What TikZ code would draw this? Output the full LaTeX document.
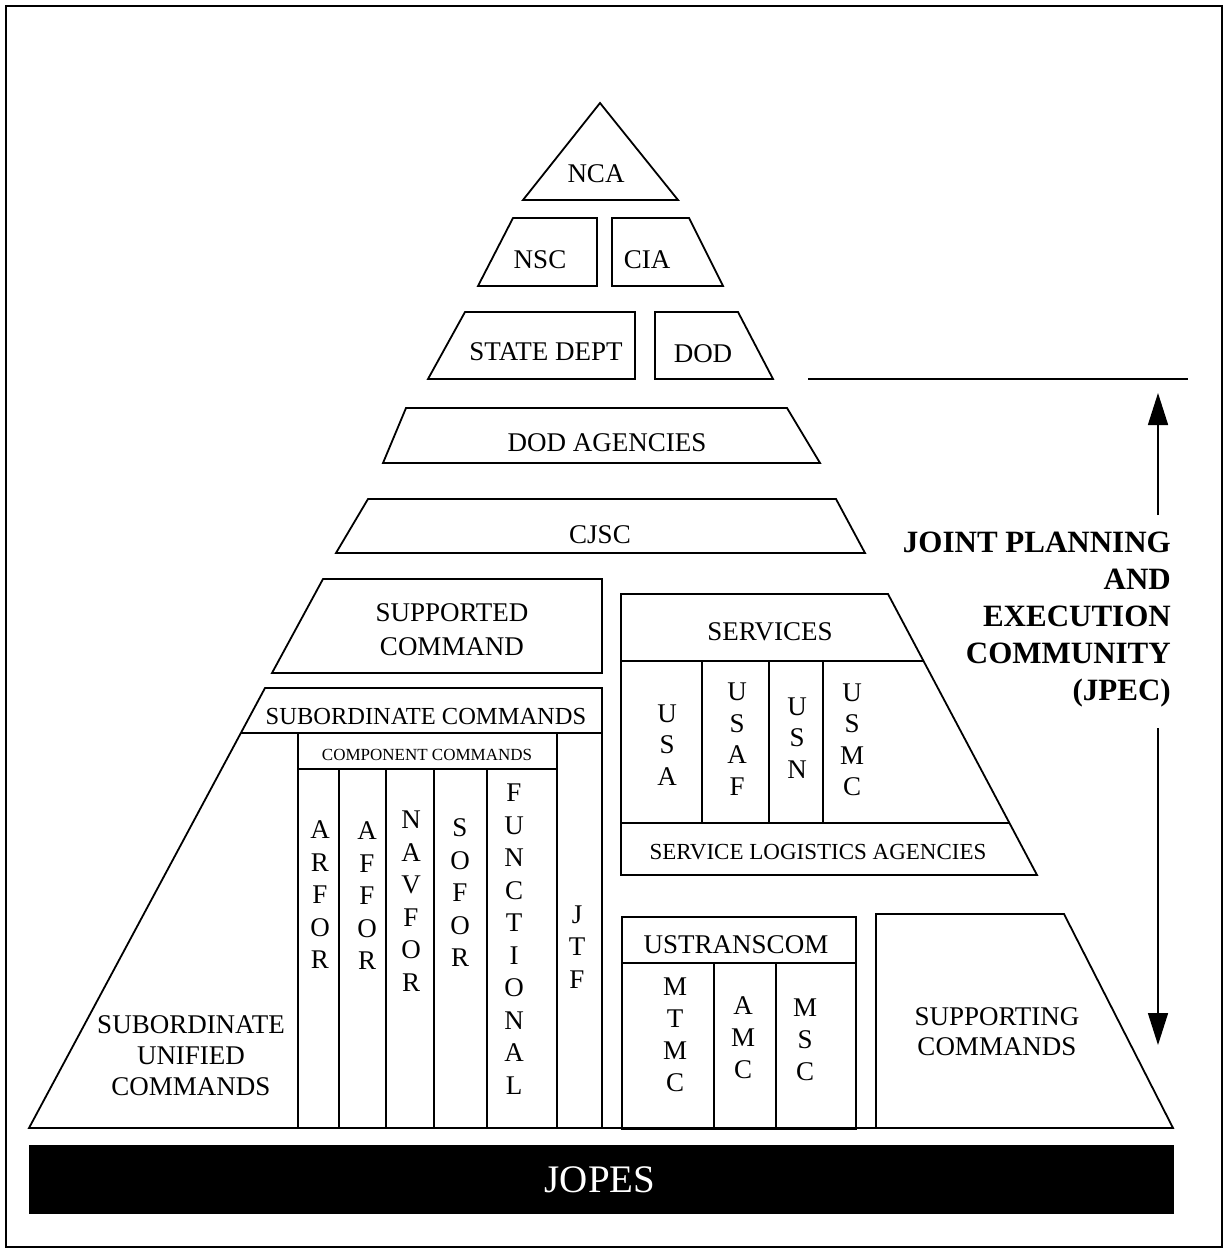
\documentclass[tikz,border=0pt]{standalone}
\usepackage{fontspec}
\setmainfont{Liberation Serif}
\usetikzlibrary{arrows.meta}
\begin{document}
\begin{tikzpicture}[x=1pt,y=-1pt,
  ln/.style={draw,line width=1.8pt,line join=miter},
  lbl/.style={inner sep=0pt,align=center,font=\fontsize{27}{32}\selectfont},
  stack/.style={inner sep=0pt,align=center,font=\fontsize{27}{32.5}\selectfont},
  small/.style={inner sep=0pt,font=\fontsize{17}{20}\selectfont},
  jpec/.style={inner sep=0pt,align=right,font=\fontsize{31}{37}\selectfont\bfseries},
  arr/.style={line width=1.6pt,-{Triangle[length=32pt,width=20pt]}}]
\useasboundingbox (0,0) rectangle (1225,1250);
% border
\draw[line width=2pt] (6,6) rectangle (1222,1247);
% top pyramid pieces
\draw[ln] (523,200)--(600,103)--(678,200)--cycle;
\draw[ln] (478,286)--(513,218)--(597,218)--(597,286)--cycle;
\draw[ln] (612,218)--(689,218)--(723,286)--(612,286)--cycle;
\draw[ln] (428,379)--(465,312)--(635,312)--(635,379)--cycle;
\draw[ln] (655,312)--(738,312)--(773,379)--(655,379)--cycle;
\draw[ln] (383,463)--(406,408)--(787,408)--(820,463)--cycle;
\draw[ln] (336,553)--(368,499)--(836,499)--(865,553)--cycle;
\draw[ln] (272,673)--(323,579)--(602,579)--(602,673)--cycle;
% big left block
\draw[ln] (29,1128)--(265,688)--(602,688)--(602,1128)--cycle;
\draw[ln] (241,733)--(602,733);
\draw[ln] (298,1128)--(298,733);
\draw[ln] (298,769)--(557,769);
\draw[ln] (557,733)--(557,1128);
\foreach \xx in {339,386,434,487} \draw[ln] (\xx,769)--(\xx,1128);
% services
\draw[ln] (621,594)--(888,594)--(1037,875)--(621,875)--cycle;
\draw[ln] (621,661)--(923,661);
\draw[ln] (621,823)--(1009,823);
\foreach \xx in {702,769,823} \draw[ln] (\xx,661)--(\xx,823);
% ustranscom
\draw[ln] (622,917) rectangle (856,1129);
\draw[ln] (622,963)--(856,963);
\foreach \xx in {714,776} \draw[ln] (\xx,963)--(\xx,1129);
% supporting
\draw[ln] (876,1128)--(876,914)--(1064,914)--(1173,1128)--cycle;
\draw[ln] (602,1128)--(876,1128);
% JOPES bar
\fill (29,1145) rectangle (1174,1214);
\node[inner sep=0pt,text=white,font=\fontsize{39}{44}\selectfont] (jopes) at (600,1180) {JOPES};
% labels
\node[lbl] (nca) at (596,174) {NCA};
\node[lbl] (nsc) at (540,260) {NSC};
\node[lbl] (cia) at (647,260) {CIA};
\node[lbl] (state) at (546,352) {STATE DEPT};
\node[lbl] (dod) at (703,354) {DOD};
\node[lbl] (doda) at (607,443) {DOD AGENCIES};
\node[lbl] (cjsc) at (600,535) {CJSC};
\node[lbl,font=\fontsize{27}{34}\selectfont] (supd) at (452,630) {SUPPORTED\\COMMAND};
\node[inner sep=0pt,font=\fontsize{24.5}{28}\selectfont] (subc) at (426,716) {SUBORDINATE COMMANDS};
\node[small] (compc) at (427,755) {COMPONENT COMMANDS};
\node[stack] (arfor) at (320,895) {A\\R\\F\\O\\R};
\node[stack] (affor) at (367,896) {A\\F\\F\\O\\R};
\node[stack] (navfor) at (411,901) {N\\A\\V\\F\\O\\R};
\node[stack] (sofor) at (460,893) {S\\O\\F\\O\\R};
\node[stack] (func) at (514,939) {F\\U\\N\\C\\T\\I\\O\\N\\A\\L};
\node[stack] (jtf) at (577,947) {J\\T\\F};
\node[lbl,font=\fontsize{27}{31}\selectfont] (suc) at (191,1056) {SUBORDINATE\\UNIFIED\\COMMANDS};
\node[lbl] (serv) at (770,632) {SERVICES};
\node[stack,font=\fontsize{27}{31.5}\selectfont] (usa) at (667,745) {U\\S\\A};
\node[stack,font=\fontsize{27}{31.5}\selectfont] (usaf) at (737,739) {U\\S\\A\\F};
\node[stack,font=\fontsize{27}{31.5}\selectfont] (usn) at (797,738) {U\\S\\N};
\node[stack,font=\fontsize{27}{31.5}\selectfont] (usmc) at (852,740) {U\\S\\M\\C};
\node[inner sep=0pt,font=\fontsize{23}{27}\selectfont] (sla) at (818,852) {SERVICE LOGISTICS AGENCIES};
\node[lbl] (ustc) at (736,945) {USTRANSCOM};
\node[stack,font=\fontsize{27}{32}\selectfont] (mtmc) at (675,1035) {M\\T\\M\\C};
\node[stack,font=\fontsize{27}{32}\selectfont] (amc) at (743,1038) {A\\M\\C};
\node[stack,font=\fontsize{27}{32}\selectfont] (msc) at (805,1040) {M\\S\\C};
\node[lbl,font=\fontsize{27}{30}\selectfont] (supg) at (997,1032) {SUPPORTING\\COMMANDS};
% JPEC
\node[jpec,anchor=east] (jp) at (1171,620) {JOINT PLANNING\\AND\\EXECUTION\\COMMUNITY\\(JPEC)};
\coordinate (topline-l) at (808,379);
\coordinate (topline-r) at (1188,379);
\draw[ln] (topline-l)--(topline-r);
\coordinate (upstart) at (1158,515);
\coordinate (uptip) at (1158,393);
\coordinate (dnstart) at (1158,728);
\coordinate (dntip) at (1158,1045);
\draw[arr] (upstart)--(uptip);
\draw[arr] (dnstart)--(dntip);
\end{tikzpicture}
\end{document}
